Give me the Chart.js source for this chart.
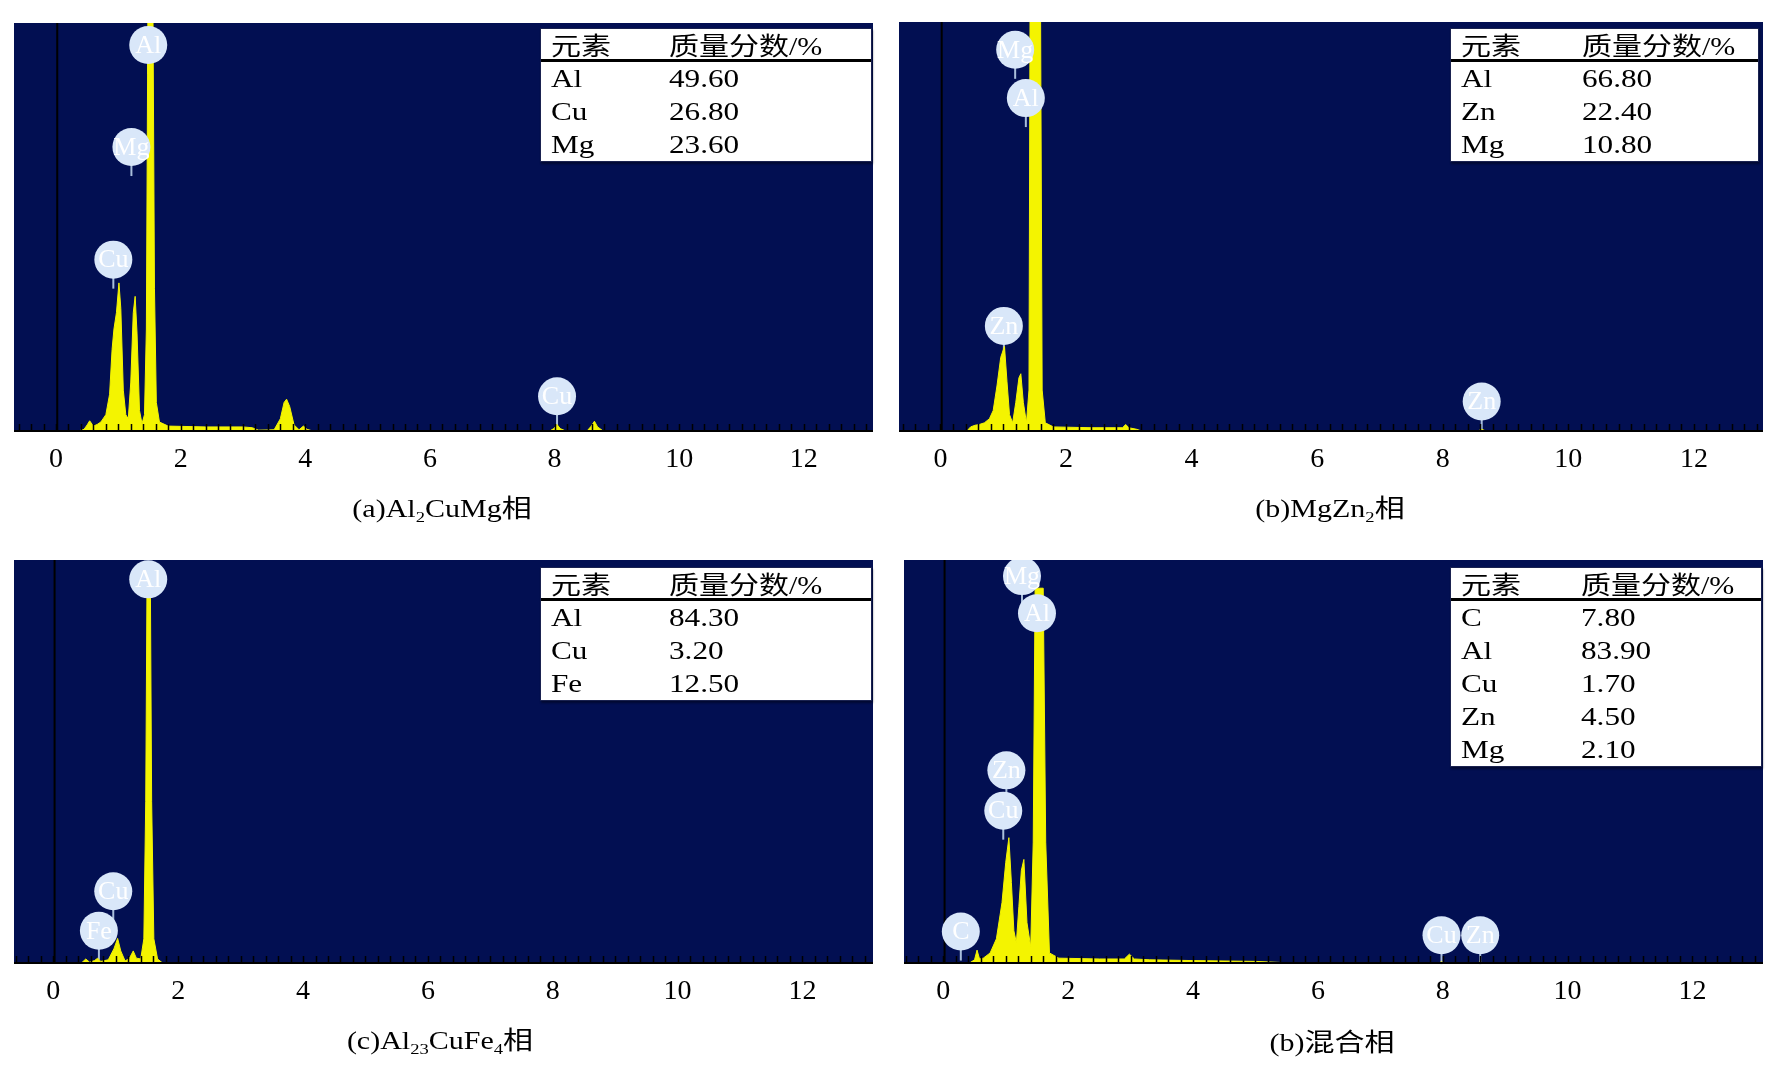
<!DOCTYPE html>
<html>
<head>
<meta charset="utf-8">
<script src="https://cdn.jsdelivr.net/npm/chart.js@4.4.1/dist/chart.umd.min.js"></script>
<style>
  body { margin: 0; background: #fff; width: 1791px; height: 1066px; position: relative; overflow: hidden;
         font-family: 'Liberation Serif', 'Times New Roman', serif; color: #000; }
  canvas { position: absolute; }
  .tbl { position: absolute; background: #fff; border: 1px solid #1a2250; box-shadow: 1px 2px 2px rgba(0,0,0,.4); }
  .tbl .hd { height: 30px; border-bottom: 3px solid #000; position: relative; }
  .tbl .row { height: 33px; position: relative; }
  .tbl span { position: absolute; top: 0; white-space: nowrap; transform: scaleX(1.2); transform-origin: left center; }
  .tbl .hd span { line-height: 30px; font-size: 25px; }
  .tbl .row span { line-height: 33px; font-size: 26px; }
  .cjk { font-family: 'Noto Sans CJK SC', sans-serif; }
  .cap { position: absolute; font-size: 25px; white-space: nowrap; transform: translate(-50%, -50%) scaleX(1.2); }
  .cap sub { font-size: 0.62em; vertical-align: -0.28em; }
</style>
</head>
<body>
<script>
// energy axis ticks (keV)
const TICK_VALUES = [0, 2, 4, 6, 8, 10, 12];

// (a) Al2CuMg
const ENERGY_A = [-0.7, 0.35, 0.45, 0.5, 0.54, 0.6, 0.66, 0.72, 0.8, 0.86, 0.9, 0.93, 0.97, 1.01, 1.04, 1.08, 1.12, 1.16, 1.2, 1.24, 1.27, 1.3, 1.34, 1.38, 1.42, 1.45, 1.48, 1.55, 1.58, 1.61, 1.66, 1.8, 2.4, 3.0, 3.15, 3.25, 3.5, 3.6, 3.66, 3.7, 3.75, 3.82, 3.9, 3.97, 4.03, 4.12, 7.92, 7.99, 8.04, 8.09, 8.18, 8.52, 8.59, 8.64, 8.69, 8.78, 13.3];
const COUNTS_A = [0, 0, 0.004, 0.015, 0.025, 0.012, 0.016, 0.022, 0.04, 0.09, 0.2, 0.25, 0.29, 0.363, 0.3, 0.1, 0.04, 0.03, 0.12, 0.29, 0.33, 0.24, 0.05, 0.018, 0.04, 0.25, 1.2, 1.2, 0.35, 0.07, 0.022, 0.012, 0.01, 0.01, 0.008, 0.002, 0.003, 0.03, 0.07, 0.078, 0.06, 0.015, 0.003, 0.012, 0.004, 0, 0, 0.006, 0.016, 0.006, 0, 0, 0.012, 0.024, 0.01, 0, 0];
const PEAK_A_NAMES = ['Al', 'Mg', 'Cu', 'Cu'];
const PEAK_A_X = [1.48, 1.21, 0.92, 8.04];
const PEAK_A_Y = [0.946, 0.696, 0.42, 0.085];
const TABLE_A_EL = ['Al', 'Cu', 'Mg'];
const TABLE_A_VAL = ['49.60', '26.80', '23.60'];

// (b) MgZn2
const ENERGY_B = [-0.7, 0.42, 0.48, 0.55, 0.62, 0.7, 0.78, 0.84, 0.9, 0.96, 1.02, 1.06, 1.1, 1.15, 1.2, 1.25, 1.28, 1.32, 1.37, 1.41, 1.43, 1.59, 1.62, 1.67, 1.8, 2.4, 2.9, 2.95, 3.0, 3.13, 3.2, 8.55, 8.62, 8.69, 13.3];
const COUNTS_B = [0, 0, 0.01, 0.014, 0.016, 0.02, 0.03, 0.05, 0.11, 0.18, 0.207, 0.12, 0.04, 0.02, 0.07, 0.13, 0.14, 0.07, 0.02, 0.1, 1.2, 1.2, 0.1, 0.02, 0.01, 0.008, 0.008, 0.016, 0.008, 0.004, 0, 0, 0.004, 0, 0];
const PEAK_B_NAMES = ['Mg', 'Al', 'Zn', 'Zn'];
const PEAK_B_X = [1.19, 1.36, 1.01, 8.62];
const PEAK_B_Y = [0.932, 0.814, 0.257, 0.072];
const TABLE_B_EL = ['Al', 'Zn', 'Mg'];
const TABLE_B_VAL = ['66.80', '22.40', '10.80'];

// (c) Al23CuFe4
const ENERGY_C = [-0.7, 0.45, 0.52, 0.58, 0.66, 0.71, 0.76, 0.88, 0.97, 1.03, 1.08, 1.15, 1.22, 1.28, 1.33, 1.4, 1.45, 1.48, 1.5, 1.555, 1.575, 1.61, 1.67, 1.75, 13.3];
const COUNTS_C = [0, 0, 0.01, 0.002, 0.006, 0.012, 0.004, 0.008, 0.035, 0.061, 0.03, 0.005, 0.012, 0.03, 0.012, 0.01, 0.06, 0.4, 0.93, 0.93, 0.4, 0.06, 0.01, 0, 0];
const PEAK_C_NAMES = ['Al', 'Cu', 'Fe'];
const PEAK_C_X = [1.52, 0.96, 0.73];
const PEAK_C_Y = [0.952, 0.178, 0.08];
const TABLE_C_EL = ['Al', 'Cu', 'Fe'];
const TABLE_C_VAL = ['84.30', '3.20', '12.50'];

// (d) mixed phase
const ENERGY_D = [-0.7, 0.42, 0.5, 0.54, 0.58, 0.64, 0.75, 0.85, 0.94, 1.0, 1.05, 1.09, 1.13, 1.17, 1.21, 1.25, 1.29, 1.34, 1.4, 1.44, 1.47, 1.6, 1.64, 1.7, 1.85, 2.5, 2.9, 2.98, 3.06, 3.3, 4.0, 5.0, 5.6, 7.94, 7.98, 8.02, 8.56, 8.6, 8.64, 13.3];
const COUNTS_D = [0, 0, 0.008, 0.032, 0.01, 0.012, 0.025, 0.06, 0.15, 0.25, 0.311, 0.2, 0.08, 0.05, 0.14, 0.23, 0.257, 0.1, 0.04, 0.3, 0.93, 0.93, 0.3, 0.025, 0.012, 0.01, 0.01, 0.022, 0.01, 0.008, 0.006, 0.004, 0, 0, 0.003, 0, 0, 0.003, 0, 0];
const PEAK_D_NAMES = ['Mg', 'Al', 'Zn', 'Cu', 'C', 'Cu', 'Zn'];
const PEAK_D_X = [1.26, 1.5, 1.01, 0.96, 0.28, 7.98, 8.6];
const PEAK_D_Y = [0.96, 0.868, 0.478, 0.378, 0.078, 0.069, 0.069];
const TABLE_D_EL = ['C', 'Al', 'Cu', 'Zn', 'Mg'];
const TABLE_D_VAL = ['7.80', '83.90', '1.70', '4.50', '2.10'];

const CAPTIONS = ['(a)Al<sub>2</sub>CuMg<span class="cjk">相</span>',
                  '(b)MgZn<sub>2</sub><span class="cjk">相</span>',
                  '(c)Al<sub>23</sub>CuFe<sub>4</sub><span class="cjk">相</span>',
                  '(b)<span class="cjk">混合相</span>'];

const NAVY = '#020f52';
const YELLOW = '#f4f400';
const BUBBLE = '#d9e7f9';
const AXIS_H = 60;
const MINOR_STEP = 0.2;
const ZERO_LINE = 0.02;

// plot boxes and table boxes in page pixels
const PANELS = [
  { left: 14, top: 23, right: 873, bottom: 431, xMin: -0.674, xMax: 13.11, tbl: [540, 28, 330, 10, 128], cap: [442, 507],
    energy: ENERGY_A, counts: COUNTS_A, names: PEAK_A_NAMES, px: PEAK_A_X, py: PEAK_A_Y, el: TABLE_A_EL, val: TABLE_A_VAL },
  { left: 899, top: 22, right: 1763, bottom: 431, xMin: -0.66, xMax: 13.1, tbl: [1450, 28, 307, 10, 131], cap: [1330, 507],
    energy: ENERGY_B, counts: COUNTS_B, names: PEAK_B_NAMES, px: PEAK_B_X, py: PEAK_B_Y, el: TABLE_B_EL, val: TABLE_B_VAL },
  { left: 14, top: 560, right: 873, bottom: 963, xMin: -0.63, xMax: 13.13, tbl: [540, 567, 330, 10, 128], cap: [440, 1039],
    energy: ENERGY_C, counts: COUNTS_C, names: PEAK_C_NAMES, px: PEAK_C_X, py: PEAK_C_Y, el: TABLE_C_EL, val: TABLE_C_VAL },
  { left: 904, top: 560, right: 1763, bottom: 963, xMin: -0.63, xMax: 13.13, tbl: [1450, 567, 310, 10, 130], cap: [1332, 1040],
    energy: ENERGY_D, counts: COUNTS_D, names: PEAK_D_NAMES, px: PEAK_D_X, py: PEAK_D_Y, el: TABLE_D_EL, val: TABLE_D_VAL }
];

const decor = {
  id: 'decor',
  beforeDraw(chart) {
    const { ctx, chartArea: a } = chart;
    ctx.save();
    ctx.fillStyle = NAVY;
    ctx.fillRect(a.left, a.top, a.width, a.height);
    ctx.restore();
  },
  beforeDatasetsDraw(chart) {
    const { ctx, chartArea: a, scales } = chart;
    ctx.save();
    // black line at zero energy
    const zx = scales.x.getPixelForValue(ZERO_LINE);
    ctx.strokeStyle = '#000';
    ctx.lineWidth = 2;
    ctx.beginPath(); ctx.moveTo(zx, a.top); ctx.lineTo(zx, a.bottom); ctx.stroke();
    // stems under bubbles
    const meta = chart.getDatasetMeta(0);
    ctx.strokeStyle = '#a9bedb';
    ctx.lineWidth = 2;
    meta.data.forEach(pt => {
      ctx.beginPath(); ctx.moveTo(pt.x, pt.y + 17); ctx.lineTo(pt.x, pt.y + 29); ctx.stroke();
    });
    ctx.restore();
  },
  afterDatasetsDraw(chart, args, opts) {
    const { ctx } = chart;
    const meta = chart.getDatasetMeta(0);
    ctx.save();
    ctx.fillStyle = '#fff';
    ctx.font = '26px "Liberation Serif"';
    ctx.textAlign = 'center';
    ctx.textBaseline = 'middle';
    meta.data.forEach((pt, i) => ctx.fillText(opts.names[i], pt.x, pt.y + 1));
    ctx.restore();
  },
  afterDraw(chart) {
    const { ctx, chartArea: a, scales } = chart;
    const sx = scales.x;
    ctx.save();
    ctx.strokeStyle = '#000';
    ctx.lineWidth = 2;
    ctx.beginPath(); ctx.moveTo(a.left, a.bottom); ctx.lineTo(a.right, a.bottom); ctx.stroke();
    ctx.lineWidth = 1.5;
    for (let v = Math.ceil(sx.min / MINOR_STEP) * MINOR_STEP; v < sx.max; v += MINOR_STEP) {
      const x = Math.round(sx.getPixelForValue(v)) + 0.5;
      ctx.beginPath(); ctx.moveTo(x, a.bottom); ctx.lineTo(x, a.bottom - 7); ctx.stroke();
    }
    ctx.restore();
  }
};

function buildPanel(p) {
  const cv = document.createElement('canvas');
  cv.width = p.right - p.left;
  cv.height = p.bottom - p.top + AXIS_H;
  cv.style.left = p.left + 'px';
  cv.style.top = p.top + 'px';
  document.body.appendChild(cv);

  new Chart(cv, {
    type: 'line',
    data: {
      datasets: [
        {
          type: 'scatter',
          data: p.px.map((x, i) => ({ x: x, y: p.py[i] })),
          pointRadius: 19,
          pointHoverRadius: 19,
          backgroundColor: BUBBLE,
          borderWidth: 0,
          clip: false,
          order: 0
        },
        {
          data: p.energy.map((x, i) => ({ x: x, y: p.counts[i] })),
          borderColor: YELLOW,
          backgroundColor: YELLOW,
          borderWidth: 1,
          fill: 'origin',
          pointRadius: 0,
          tension: 0,
          order: 1
        }
      ]
    },
    options: {
      responsive: false,
      animation: false,
      events: [],
      layout: { padding: 0, autoPadding: false },
      plugins: { legend: { display: false }, tooltip: { enabled: false }, decor: { names: p.names } },
      scales: {
        x: {
          type: 'linear',
          min: p.xMin,
          max: p.xMax,
          afterBuildTicks: s => { s.ticks = TICK_VALUES.map(v => ({ value: v })); },
          afterFit: s => { s.height = AXIS_H; },
          grid: { display: false, drawTicks: false },
          border: { display: false },
          ticks: { padding: 12, color: '#000', autoSkip: false, maxRotation: 0,
                   font: { family: 'Liberation Serif', size: 28 } }
        },
        y: { display: false, min: 0, max: 1 }
      }
    },
    plugins: [decor]
  });

  // composition table
  const [tl, tt, tw, c1, c2] = p.tbl;
  const t = document.createElement('div');
  t.className = 'tbl';
  t.style.left = tl + 'px';
  t.style.top = tt + 'px';
  t.style.width = tw + 'px';
  let html = '<div class="hd"><span class="cjk" style="left:' + c1 + 'px">元素</span>' +
             '<span style="left:' + c2 + 'px"><span class="cjk" style="position:static;transform:none">质量分数</span>/%</span></div>';
  p.el.forEach((e, i) => {
    html += '<div class="row"><span style="left:' + c1 + 'px">' + e + '</span><span style="left:' + c2 + 'px">' + p.val[i] + '</span></div>';
  });
  t.innerHTML = html;
  document.body.appendChild(t);
}

PANELS.forEach((p, i) => {
  buildPanel(p);
  const c = document.createElement('div');
  c.className = 'cap';
  c.style.left = p.cap[0] + 'px';
  c.style.top = p.cap[1] + 'px';
  c.innerHTML = CAPTIONS[i];
  document.body.appendChild(c);
});
</script>
</body>
</html>
